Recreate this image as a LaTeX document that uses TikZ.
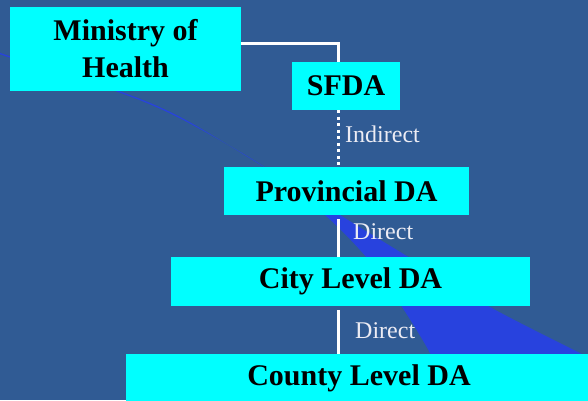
\documentclass[tikz,border=0pt]{standalone}
\usepackage{fontspec}
\setmainfont{Liberation Serif}
\definecolor{bgblue}{RGB}{48,91,148}
\definecolor{swoosh}{RGB}{40,66,222}
\definecolor{boxcyan}{RGB}{0,255,255}
\definecolor{lbltext}{RGB}{236,236,244}
\begin{document}
\begin{tikzpicture}[x=1pt,y=-1pt,
  box/.style={fill=boxcyan, inner sep=0pt, text=black, align=center,
    font=\fontsize{30}{37}\selectfont\bfseries},
  lbl/.style={anchor=base west, inner sep=0pt, text=lbltext,
    font=\fontsize{24}{28}\selectfont},
  link/.style={draw=white, line width=3pt},
  dotlink/.style={draw=white, line width=3pt, dash pattern=on 3pt off 3.5pt}]
\useasboundingbox (0,0) rectangle (588,400);
\clip (0,0) rectangle (588,400);
\fill[bgblue] (0,0) rectangle (588,400);
% decorative swoosh
\fill[swoosh] plot[smooth, tension=0.5] coordinates
  {(-5,50.5) (10,56.3) (120,91.4) (182,118) (263,166.3) (340,215) (410,258) (490,307) (580,353) (600,362)}
  -- (600,410) -- (460,410)
  -- plot[smooth, tension=0.5] coordinates
  {(446,390) (430,353) (402,307) (367,258) (325,215) (266,168) (182,119.3) (120,92.7) (10,57.6) (-5,51.8)}
  -- cycle;
% boxes
\node[box, minimum width=231pt, minimum height=84pt] (min) at (125.5,49) {Ministry of\\Health};
\node[box, minimum width=108pt, minimum height=48pt] (sfda) at (346,86) {SFDA};
\node[box, minimum width=245pt, minimum height=48pt] (prov) at (346.5,191) {Provincial DA};
\node[box, minimum width=359pt, minimum height=49pt] (city) at (350.5,281.5) {City Level DA};
\node[box, minimum width=466pt, minimum height=48pt] (county) at (359,378) {County Level DA};
% connectors
\coordinate (spine) at (338,0);
\draw[link] ([yshift=6pt]min.east) -| (sfda.north -| spine);
\draw[dotlink] (sfda.south -| spine) -- (prov.north -| spine);
\draw[link, shorten <=4pt] (prov.south -| spine) -- (city.north -| spine);
\draw[link, shorten <=4pt] (city.south -| spine) -- (county.north -| spine);
% labels
\node[lbl] (lind) at (345,142) {Indirect};
\node[lbl] (ldir1) at (353,239) {Direct};
\node[lbl] (ldir2) at (355,338) {Direct};
\end{tikzpicture}
\end{document}
